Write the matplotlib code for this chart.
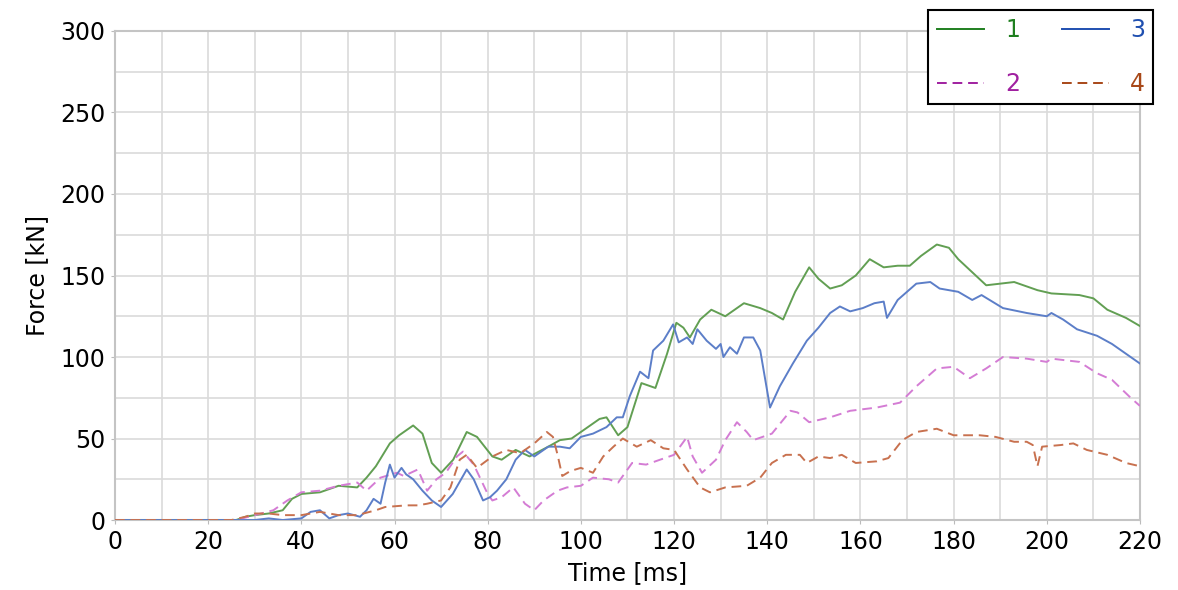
import numpy as np
import matplotlib.pyplot as plt
from matplotlib.ticker import MultipleLocator

plt.rcParams['font.family'] = ['DejaVu Sans']

# DATOS
# Serie 1 (verde, continua)
t1 = [0, 26, 28, 30, 33, 36, 38, 40, 44, 48, 52, 54, 56, 59, 61, 64, 66, 68, 70,
      72.6, 75.5, 77.7, 81, 83, 86, 89, 93, 95.5, 98, 100, 104, 105.5, 108, 110,
      112, 113, 116, 118.5, 120.5, 122, 123.4, 125.6, 128, 131, 135, 138.5, 141,
      143.4, 146, 149, 151, 153.5, 156, 159, 162, 165, 168, 170.6, 173, 176.4,
      179, 181, 184, 187, 190, 193, 198, 201, 207, 210, 213, 217, 220]
f1 = [0, 0, 2, 3, 4, 6, 13, 16, 17, 21, 20, 26, 33, 47, 52, 58, 53, 35, 29,
      37, 54, 51, 39, 37, 43, 39, 45, 49, 50, 54, 62, 63, 52, 57,
      75, 84, 81, 102, 121, 118, 112, 123, 129, 125, 133, 130, 127,
      123, 140, 155, 148, 142, 144, 150, 160, 155, 156, 156, 162, 169,
      167, 160, 152, 144, 145, 146, 141, 139, 138, 136, 129, 124, 119]

# Serie 3 (azul, continua)
t3 = [0, 30, 33, 36, 40, 42, 44, 46, 48, 50, 52.6, 54, 55.5, 57, 58, 59, 60,
      61.5, 62.5, 64, 66, 68, 70, 72.5, 75.5, 77, 79, 80.5, 82, 84, 86, 88, 90,
      93, 95.5, 97.6, 100, 102.6, 105.5, 107.7, 109, 110.5, 112.7, 114.5, 115.5,
      117.7, 119.8, 121, 122.8, 124, 125, 127, 129, 130, 130.6, 132, 133.5, 135,
      137, 138.5, 140.6, 142.7, 145.5, 148.5, 151, 153.5, 155.6, 157.8, 160.5,
      163, 165, 165.7, 168, 172, 175, 177, 181, 184, 186, 190.6, 195.7, 200,
      201, 203.5, 206.5, 210.8, 214, 217, 220]
f3 = [0, 0, 1, 0, 1, 5, 6, 1, 3, 4, 2, 6, 13, 10, 23, 34, 26,
      32, 28, 25, 18, 12, 8, 16, 31, 25, 12, 14, 18, 25, 37, 43, 39,
      45, 45, 44, 51, 53, 57, 63, 63, 76, 91, 87, 104,
      110, 120, 109, 112, 108, 117, 110, 105, 108, 100, 106, 102, 112,
      112, 104, 69, 82, 96, 110, 118, 127, 131, 128, 130,
      133, 134, 124, 135, 145, 146, 142, 140, 135, 138, 130, 127, 125,
      127, 123, 117, 113, 108, 102, 96]

# Serie 2 (magenta, discontinua)
t2 = [0, 26, 30, 34, 37, 40, 44, 48, 52, 54, 57, 60.5, 62, 65, 67, 69, 71,
      73.4, 74.7, 77, 80, 81, 83, 85.5, 88, 90, 92, 95, 97, 100, 102.6, 106,
      108, 111, 114, 117, 120, 122.8, 124, 126, 129, 131, 133.5, 135.6, 137,
      141, 145, 146.5, 149, 153.5, 157.8, 163.5, 168.5, 172, 176.4, 180, 183.5,
      187, 190.6, 195.7, 200, 201, 207, 210.8, 214, 218, 220]
f2 = [0, 0, 3, 6, 12, 17, 18, 21, 23, 18, 26, 29, 27, 31, 18, 25, 29,
      39, 42, 34, 16, 12, 14, 20, 10, 6, 12, 18, 20, 21, 26, 25,
      23, 35, 34, 37, 40, 51, 39, 29, 37, 49, 60, 54, 49,
      53, 67, 66, 60, 63, 67, 69, 72, 82, 93, 94, 87,
      93, 100, 99, 97, 99, 97, 90, 86, 75, 70]

# Serie 4 (marron, discontinua)
t4 = [0, 25, 28, 30, 33, 36, 40, 44, 48, 52, 56, 58, 62.6, 65, 67, 70, 72, 74,
      75.5, 77.7, 81, 84, 87, 90, 92.7, 94, 95, 96, 97.7, 100, 102.6, 104.8,
      107, 109, 112, 115, 117.7, 120, 122.8, 125.6, 127.7, 131, 135.6, 138.5,
      141, 144, 147, 148.5, 151, 153.5, 156, 159, 163.5, 166, 169, 172, 176.4,
      180, 185.6, 189, 193, 195.7, 197, 198, 199, 203, 205.7, 208.6, 213, 217,
      220]
f4 = [0, 0, 2, 4, 4, 3, 3, 5, 3, 3, 6, 8, 9, 9, 10, 12, 20, 37,
      40, 32, 39, 43, 41, 47, 54, 51, 40, 27, 30, 32, 29, 39,
      45, 50, 45, 49, 44, 43, 31, 20, 17, 20, 21, 26,
      35, 40, 40, 35, 39, 38, 40, 35, 36, 38, 49, 54, 56,
      52, 52, 51, 48, 48, 46, 33, 45, 46, 47, 43, 40, 35,
      33]

xticks = np.arange(0, 221, 20)
yticks = np.arange(0, 301, 50)

# GRAFICA
fig = plt.figure(figsize=(11.78, 5.90), dpi=100)
ax = fig.add_axes([0.0976, 0.1186, 0.8701, 0.8289])

ax.plot(t1, f1, color='#629f53', lw=1.4, label='1', zorder=3)
ax.plot(t2, f2, color='#d47cd4', lw=1.4, dashes=(5, 3), label='2', zorder=3)
ax.plot(t3, f3, color='#5c7ec8', lw=1.4, label='3', zorder=3)
ax.plot(t4, f4, color='#c8714f', lw=1.4, dashes=(5, 3), label='4', zorder=3)

ax.set_xlim(0, 220)
ax.set_ylim(0, 300)
ax.set_xticks(xticks)
ax.set_yticks(yticks)
ax.xaxis.set_minor_locator(MultipleLocator(10))
ax.yaxis.set_minor_locator(MultipleLocator(25))
ax.grid(True, which='both', color='#dadada', lw=1.2)
ax.set_axisbelow(True)
ax.tick_params(which='major', labelsize=17, length=3, color='#bbbbbb', pad=4)
ax.tick_params(which='minor', length=0)
for s in ax.spines.values():
    s.set_color('#c4c4c4')
    s.set_linewidth(1.5)

ax.set_xlabel('Time [ms]', fontsize=17, labelpad=5)
ax.set_ylabel('Force [kN]', fontsize=17, labelpad=8)

# Leyenda
leg = fig.legend(loc='upper right', bbox_to_anchor=(0.979, 0.983), ncol=2,
                 fontsize=17, handlelength=2.0, handletextpad=0.9,
                 columnspacing=1.75, labelspacing=1.25, borderpad=0.35,
                 borderaxespad=0, fancybox=False, framealpha=1,
                 edgecolor='black')
leg.get_frame().set_linewidth(1.5)
colores = {'1': '#1f7f1f', '2': '#a020a0', '3': '#1f4fb0', '4': '#a84818'}
for linea, texto in zip(leg.get_lines(), leg.get_texts()):
    c = colores[texto.get_text()]
    texto.set_color(c)
    linea.set_color(c)

fig.savefig('out.png', dpi=100)
